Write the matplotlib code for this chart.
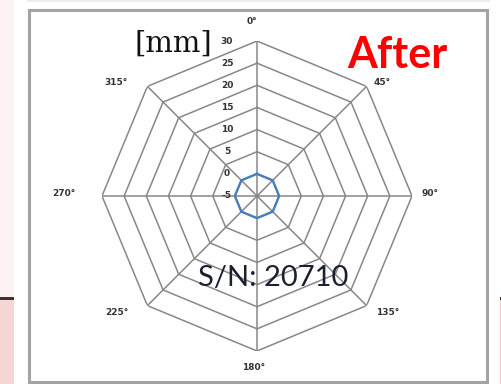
import numpy as np
import matplotlib
matplotlib.use("Agg")
import matplotlib.pyplot as plt
from matplotlib.patches import Rectangle
from matplotlib import transforms

# ---- data ----
angle_labels = ["0°", "45°", "90°", "135°", "180°", "225°", "270°", "315°"]
angles_deg = [0, 45, 90, 135, 180, 225, 270, 315]
ring_values = [-5, 0, 5, 10, 15, 20, 25, 30]
series_after = [0, 0, 0, 0, 0, 0, 0, 0]
unit_label = "[mm]"
title_text = "After"
serial_text = "S/N: 20710"

# label offsets from the outer vertex (pixels, x right / y up) - layout only
label_offsets = [(-5, 19), (16, 4), (18, 2), (21, -7), (-3, -17), (-31, -7), (-38, 3), (-31, 4)]

W, H = 502, 384
fig = plt.figure(figsize=(W / 100, H / 100), dpi=100)
fig.patch.set_facecolor("white")

def px_rect(x0, y0, x1, y1, **kw):
    fig.patches.append(Rectangle((x0 / W, 1 - y1 / H), (x1 - x0) / W, (y1 - y0) / H,
                                 transform=fig.transFigure, figure=fig, zorder=-5, **kw))

# slide background pieces
px_rect(0, 0, 14, 297, facecolor="#fdf3f3", edgecolor="none")
px_rect(0, 299, 14, 384, facecolor="#f6d5d5", edgecolor="none")
px_rect(0, 297, 14, 299.5, facecolor="#3b3232", edgecolor="none")
px_rect(500, 299, 502, 384, facecolor="#f3c9c9", edgecolor="none")
px_rect(500, 297, 502, 299.5, facecolor="#3b3232", edgecolor="none")
px_rect(27, 0, 490, 2, facecolor="#ececec", edgecolor="none")
# chart frame
px_rect(29, 9.5, 487.5, 381.5, facecolor="white", edgecolor="#a3a3a3", linewidth=2.2)

# ---- radar axes ----
cx, cy, R = 257, 196, 155
ax = fig.add_axes([(cx - R) / W, (H - cy - R) / H, 2 * R / W, 2 * R / H], projection="polar")
ax.set_zorder(5)
ax.set_theta_zero_location("N")
ax.set_theta_direction(-1)
ax.set_ylim(ring_values[0], ring_values[-1])
ax.set_facecolor("none")
ax.grid(False)
ax.spines["polar"].set_visible(False)
ax.set_xticks([])
ax.set_yticks([])

theta = np.deg2rad(angles_deg)
theta_closed = np.append(theta, theta[0])
grid_col = "#878787"
for v in ring_values[1:]:
    ax.plot(theta_closed, [v] * len(theta_closed), color=grid_col, lw=1.1, zorder=1)
for t in theta:
    ax.plot([t, t], [ring_values[0], ring_values[-1]], color=grid_col, lw=1.1, zorder=1)

vals = np.append(series_after, series_after[0])
ax.plot(theta_closed, vals, color="#4a7ebb", lw=1.7, zorder=3)

# angle labels, placed relative to outer vertices
for t, lab, (dx, dy) in zip(theta, angle_labels, label_offsets):
    tr = transforms.offset_copy(ax.transData, fig=fig, x=dx, y=dy, units="dots")
    ax.text(t, ring_values[-1], lab, transform=tr, ha="center", va="center", fontsize=6.5,
            fontweight="bold", color="#333333", clip_on=False)

# radial value labels, left of the 0° spoke
off = transforms.offset_copy(ax.transData, fig=fig, x=-30, y=0, units="dots")
for v in ring_values:
    ax.text(0, v, str(v), transform=off, ha="center", va="center", fontsize=6.5,
            fontweight="bold", color="#333333", clip_on=False)

fig.text(173 / W, 1 - 44 / H, unit_label, ha="center", va="center", fontsize=21,
         family="DejaVu Serif", color="#111111")
fig.text(397 / W, 1 - 55 / H, title_text, ha="center", va="center", fontsize=31,
         family="Lato", fontweight="bold", color="#ff0000", zorder=6)
fig.text(273 / W, 1 - 278 / H, serial_text, ha="center", va="center", fontsize=21,
         family="Lato", color="#1a2030", zorder=6)

fig.savefig("out.png", dpi=100)
